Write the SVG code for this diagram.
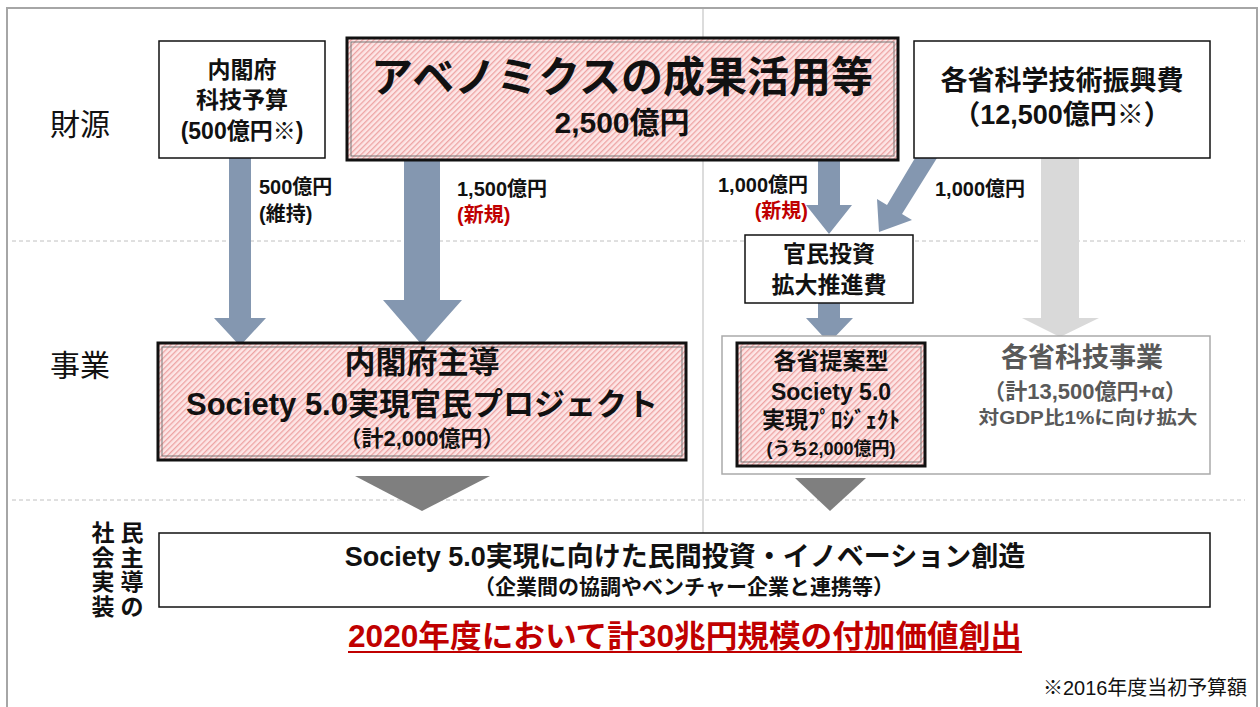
<svg xmlns="http://www.w3.org/2000/svg" width="1260" height="707" viewBox="0 0 1260 707">
<defs>
<pattern id="hatch" patternUnits="userSpaceOnUse" width="4" height="4" patternTransform="rotate(45)">
<rect width="4" height="4" fill="#fde6e6"/>
<rect width="1.3" height="4" fill="#eda3a3"/>
</pattern>
<style>
.t{font-family:"Liberation Sans","Noto Sans CJK JP",sans-serif;font-weight:bold;fill:#111;text-anchor:middle}
.n{font-family:"Liberation Sans","Noto Sans CJK JP",sans-serif;font-weight:normal;fill:#111}
.red{fill:#c00000}
.box{fill:#fff;stroke:#111;stroke-width:1.5}
.pk{fill:url(#hatch);stroke:#111;stroke-width:3}
.pki{fill:none;stroke:#777;stroke-width:1}
.ar{fill:#8497b0}
.ga{fill:#d9d9d9}
.tri{fill:#7f7f7f}
.dash{stroke:#c0c0c0;stroke-width:1;stroke-dasharray:4 3}
</style>
</defs>
<rect x="0" y="0" width="1260" height="707" fill="#fff"/>
<g id="frame">
<rect x="7" y="8" width="1250" height="720" fill="none" stroke="#a6a6a6" stroke-width="2"/>
<line x1="703" y1="9" x2="703" y2="533" stroke="#d0d0d0" stroke-width="1.5"/>
<line class="dash" x1="12" y1="241" x2="1245" y2="241"/>
<line class="dash" x1="12" y1="500" x2="1245" y2="500"/>
</g>
<g id="labels">
<text class="n" x="50" y="135" font-size="30">財源</text>
<text class="n" x="50" y="376" font-size="30">事業</text>
<text class="t" font-size="23"><tspan x="132" y="541">民</tspan><tspan x="132" y="566">主</tspan><tspan x="132" y="590">導</tspan><tspan x="132" y="615">の</tspan><tspan x="103" y="541">社</tspan><tspan x="103" y="566">会</tspan><tspan x="103" y="590">実</tspan><tspan x="103" y="615">装</tspan></text>
</g>
<g id="connectors">
<polygon class="ar" points="229,150 251,150 251,318 266,318 240,346 214,318 229,318"/>
<polygon class="ar" points="404,150 440,150 440,300 462,300 422,345 383,300 404,300"/>
<polygon class="ar" points="818,150 840,150 840,205 852,205 829,234 806,205 818,205"/>
<polygon class="ar" points="937,158 921,148 887,205 877,199 879,232 912,220 902,214"/>
<polygon class="ar" points="818,300 840,300 840,318 853,318 829,343 806,318 818,318"/>
<polygon class="ga" points="1041,150 1079,150 1079,318 1099,318 1060,337 1022,318 1041,318"/>
<polygon class="tri" points="355,476 490,476 422,511"/>
<polygon class="tri" points="795,478 866,478 830,511"/>
<text class="t" x="259" y="194" font-size="20" style="text-anchor:start">500億円</text>
<text class="t" x="259" y="221" font-size="20" style="text-anchor:start">(維持)</text>
<text class="t" x="457" y="196" font-size="20" style="text-anchor:start">1,500億円</text>
<text class="t red" x="457" y="222" font-size="20" style="text-anchor:start">(新規)</text>
<text class="t" x="718" y="192" font-size="20" style="text-anchor:start">1,000億円</text>
<text class="t red" x="808" y="218" font-size="20" style="text-anchor:end">(新規)</text>
<text class="t" x="935" y="196" font-size="20" style="text-anchor:start">1,000億円</text>
</g>
<g id="node-naikakufu-budget">
<rect class="box" x="159" y="41" width="166" height="117"/>
<text class="t" x="242" y="78" font-size="23">内閣府</text>
<text class="t" x="242" y="108" font-size="23">科技予算</text>
<text class="t" x="242" y="139" font-size="23">(500億円※)</text>
</g>
<g id="node-abenomics">
<rect class="pk" x="347" y="38" width="551" height="122"/>
<rect class="pki" x="351" y="42" width="543" height="114"/>
<text class="t" x="622" y="92" font-size="42">アベノミクスの成果活用等</text>
<text class="t" x="622" y="133" font-size="30">2,500億円</text>
</g>
<g id="node-kakusho-budget">
<rect class="box" x="914" y="41" width="296" height="117"/>
<text class="t" x="1062" y="90" font-size="27">各省科学技術振興費</text>
<text class="t" x="1062" y="124" font-size="27">（12,500億円※）</text>
</g>
<g id="node-kanmin">
<rect class="box" x="745" y="235" width="168" height="68"/>
<text class="t" x="829" y="262" font-size="23">官民投資</text>
<text class="t" x="829" y="293" font-size="23">拡大推進費</text>
</g>
<g id="node-naikakufu-project">
<rect class="pk" x="158" y="343" width="528" height="117"/>
<rect class="pki" x="162" y="347" width="520" height="109"/>
<text class="t" x="422" y="373" font-size="31">内閣府主導</text>
<text class="t" x="422" y="415" font-size="31">Society 5.0実現官民プロジェクト</text>
<text class="t" x="422" y="446" font-size="22">（計2,000億円）</text>
</g>
<g id="node-kakusho-jigyo">
<rect x="722" y="336" width="488" height="138" fill="#fff" stroke="#aaaaaa" stroke-width="1.5"/>
<text class="t" x="1082" y="367" font-size="27" style="fill:#595959">各省科技事業</text>
<text class="t" x="1085" y="399" font-size="22" style="fill:#595959">（計13,500億円+α）</text>
<text class="t" x="1088" y="424" font-size="18" style="fill:#595959" textLength="219" lengthAdjust="spacingAndGlyphs">対GDP比1%に向け拡大</text>
</g>
<g id="node-kakusho-teian">
<rect class="pk" x="737" y="343" width="188" height="123"/>
<rect class="pki" x="741" y="347" width="180" height="115"/>
<text class="t" x="831" y="369" font-size="23">各省提案型</text>
<text class="t" x="831" y="400" font-size="23">Society 5.0</text>
<text class="t" x="831" y="428" font-size="23">実現ﾌﾟﾛｼﾞｪｸﾄ</text>
<text class="t" x="831" y="455" font-size="18">(うち2,000億円)</text>
</g>
<g id="node-private">
<rect class="box" x="159" y="533" width="1051" height="74"/>
<text class="t" x="685" y="566" font-size="27">Society 5.0実現に向けた民間投資・イノベーション創造</text>
<text class="t" x="684" y="594" font-size="21">（企業間の協調やベンチャー企業と連携等）</text>
</g>
<g id="footer">
<text class="t red" x="685" y="647" font-size="31" textLength="674" lengthAdjust="spacingAndGlyphs">2020年度において計30兆円規模の付加価値創出</text>
<line x1="348" y1="652" x2="1022" y2="652" stroke="#c00000" stroke-width="2"/>
<text class="n" x="1247" y="695" font-size="20" style="text-anchor:end" textLength="204" lengthAdjust="spacingAndGlyphs">※2016年度当初予算額</text>
</g>
</svg>
